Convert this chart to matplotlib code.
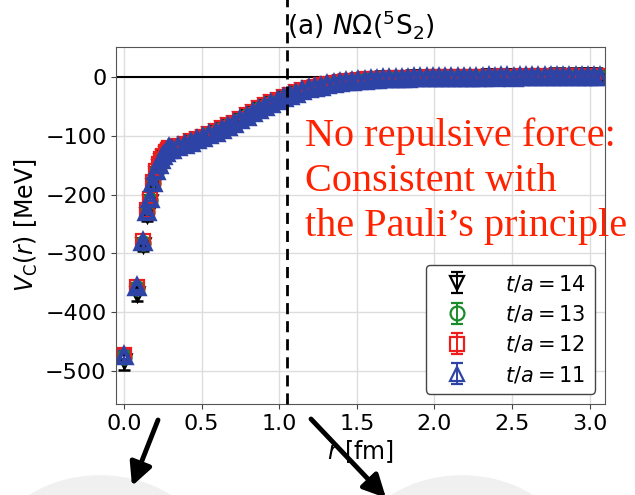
import matplotlib
matplotlib.use("Agg")
import matplotlib.pyplot as plt
from matplotlib.lines import Line2D
from matplotlib.patches import Ellipse

# r [fm]: short-range lattice points, then the dense band
r_fm = [0.0, 0.085, 0.120, 0.147, 0.169, 0.189, 0.207, 0.224, 0.239, 0.254, 0.268, 0.281, 0.293,
        0.31, 0.35, 0.39, 0.43, 0.47, 0.51, 0.55, 0.59, 0.63, 0.67,
        0.71, 0.75, 0.79, 0.83, 0.87, 0.91, 0.95, 0.99, 1.03, 1.07,
        1.11, 1.15, 1.19, 1.23, 1.27, 1.31, 1.35, 1.39, 1.43, 1.47,
        1.51, 1.55, 1.59, 1.63, 1.67, 1.71, 1.75, 1.79, 1.83, 1.87,
        1.91, 1.95, 1.99, 2.03, 2.07, 2.11, 2.15, 2.19, 2.23, 2.27,
        2.31, 2.35, 2.39, 2.43, 2.47, 2.51, 2.55, 2.59, 2.63, 2.67,
        2.71, 2.75, 2.79, 2.83, 2.87, 2.91, 2.95, 2.99, 3.03, 3.07]

# V_C(r) [MeV] for each t/a
v_t14 = [-482, -368, -286, -235, -212, -185, -165, -154, -144, -137, -131, -127, -124,
         -123, -118, -114, -110, -106, -102, -97, -93, -88, -83,
         -78, -72, -66, -60, -54, -49, -44, -39, -35, -31,
         -27, -23, -20, -17, -15, -13, -11, -9, -8, -7,
         -6, -5, -4, -4, -3, -3, -2, -2, -2, -1,
         -1, -1, -1, 0, -1, 0, 0, 0, 0, 0,
         0, 1, 0, 1, 1, 0, 1, 1, 1, 1,
         1, 1, 2, 1, 1, 2, 1, 2, 2, 1]
v_t13 = [-476, -359, -282, -229, -209, -181, -162, -151, -142, -136, -130, -126, -123,
         -124, -119, -115, -111, -107, -103, -98, -94, -89, -84,
         -79, -73, -67, -61, -55, -50, -45, -40, -36, -32,
         -28, -24, -21, -18, -16, -14, -12, -10, -9, -8,
         -7, -6, -5, -5, -4, -4, -3, -3, -3, -2,
         -2, -2, -2, -1, -2, -1, -1, -1, -1, -1,
         -1, 0, -1, 0, 0, -1, 0, 0, 0, 0,
         0, 0, 1, 0, 0, 1, 0, 1, 1, 0]
v_t12 = [-472, -356, -279, -227, -207, -179, -160, -149, -140, -134, -128, -124, -121,
         -123, -118, -114, -110, -106, -102, -97, -93, -88, -83,
         -78, -72, -66, -60, -54, -49, -44, -39, -35, -31,
         -27, -23, -20, -17, -15, -13, -11, -9, -8, -7,
         -6, -5, -5, -4, -4, -3, -3, -3, -2, -2,
         -2, -1, -1, -1, -1, -1, 0, -1, 0, 0,
         0, 0, 0, 1, 0, 0, 1, 0, 1, 1,
         0, 1, 1, 0, 1, 1, 0, 1, 1, 1]
v_t11 = [-474, -357, -281, -229, -208, -180, -161, -150, -141, -135, -129, -125, -122,
         -125, -120, -116, -112, -108, -104, -99, -95, -90, -85,
         -80, -74, -68, -62, -56, -51, -46, -41, -37, -33,
         -29, -25, -22, -19, -17, -15, -13, -11, -10, -9,
         -8, -7, -6, -6, -5, -5, -4, -4, -4, -3,
         -3, -3, -3, -2, -3, -2, -2, -2, -2, -2,
         -2, -1, -2, -1, -1, -2, -1, -1, -1, -1,
         -1, -1, 0, -1, -1, 0, -1, 0, 0, -1]

e_t14 = [16, 12, 9, 10, 8, 8, 6, 6, 5, 5, 5, 5, 5,
         7, 7, 7, 7, 7, 8, 8, 8, 8, 8,
         8, 8, 8, 8, 9, 9, 9, 9, 9, 9,
         9, 9, 10, 10, 10, 10, 10, 10, 10, 10,
         10, 10, 10, 10, 11, 11, 11, 11, 11, 11,
         11, 11, 11, 11, 11, 11, 11, 11, 11, 11,
         11, 11, 11, 11, 11, 11, 11, 11, 11, 11,
         11, 11, 11, 11, 11, 11, 11, 11, 11, 11]
e_t13 = [9, 6, 5, 5, 4, 4, 4, 4, 3, 3, 3, 3, 3,
         6, 6, 6, 6, 6, 6, 6, 6, 6, 6,
         7, 7, 7, 7, 7, 7, 7, 7, 7, 7,
         7, 7, 7, 7, 7, 8, 8, 8, 8, 8,
         8, 8, 8, 8, 8, 8, 8, 8, 8, 8,
         8, 8, 8, 8, 8, 8, 8, 8, 8, 8,
         8, 8, 8, 8, 8, 8, 8, 8, 8, 8,
         8, 8, 8, 8, 8, 8, 8, 8, 8, 8]
e_t12 = [8, 5, 4, 4, 4, 4, 3, 3, 3, 3, 3, 3, 3,
         6, 6, 6, 6, 6, 6, 6, 6, 6, 6,
         6, 6, 6, 6, 6, 6, 6, 6, 6, 6,
         7, 7, 7, 7, 7, 7, 7, 7, 7, 7,
         7, 7, 7, 7, 7, 7, 7, 7, 7, 7,
         8, 8, 8, 8, 8, 8, 8, 8, 8, 8,
         8, 8, 8, 8, 8, 8, 8, 8, 8, 8,
         8, 8, 8, 8, 8, 8, 8, 8, 8, 8]
e_t11 = [7, 5, 4, 4, 4, 4, 3, 3, 3, 3, 3, 3, 3,
         6, 6, 6, 6, 6, 6, 6, 6, 6, 6,
         6, 6, 6, 6, 6, 6, 6, 6, 6, 6,
         6, 6, 6, 6, 6, 6, 6, 6, 6, 6,
         6, 6, 6, 6, 6, 6, 6, 6, 6, 6,
         7, 7, 7, 7, 7, 7, 7, 7, 7, 7,
         7, 7, 7, 7, 7, 7, 7, 7, 7, 7,
         7, 7, 7, 7, 7, 7, 7, 7, 7, 7]

labels = [r'$t/a = 14$', r'$t/a = 13$', r'$t/a = 12$', r'$t/a = 11$']
values = [v_t14, v_t13, v_t12, v_t11]
errors = [e_t14, e_t13, e_t12, e_t11]
markers = ['v', 'o', 's', '^']
colors = ['black', '#1a8a2a', '#ee1c1c', '#2d44a6']
edge_widths = [1.8, 1.8, 1.6, 3.2]

x_ticks = [0.0, 0.5, 1.0, 1.5, 2.0, 2.5, 3.0]
y_ticks = [0, -100, -200, -300, -400, -500]
note_lines = ['No repulsive force:', 'Consistent with', 'the Pauli\u2019s principle']

fig = plt.figure(figsize=(6.35, 4.95), dpi=100)
ax = fig.add_axes([0.183, 0.184, 0.770, 0.721])

for v, e, m, c, mw, lab in zip(values, errors, markers, colors, edge_widths, labels):
    ax.errorbar(r_fm, v, yerr=e, fmt=m, mfc='none', mec=c, ecolor=c, ms=10, mew=mw,
                elinewidth=1.4, capsize=4.5, capthick=1.4, label=lab)

ax.axhline(0, color='black', lw=1.5, zorder=1)
ax.axvline(1.05, ymin=0, ymax=1.135, clip_on=False, color='black', lw=2,
           ls=(0, (4, 2.5)), zorder=5)

ax.set_xlim(-0.05, 3.1)
ax.set_ylim(-555, 50)
ax.set_xticks(x_ticks)
ax.set_yticks(y_ticks)
ax.tick_params(labelsize=16, color='#444444')
ax.grid(True, color='#dddddd', lw=1)
ax.set_axisbelow(True)
for s in ax.spines.values():
    s.set_color('#555555')

ax.set_xlabel(r'$r$ [fm]', fontsize=17, labelpad=3)
ax.set_ylabel(r'$V_\mathrm{C}(r)$ [MeV]', fontsize=17, labelpad=4)
ax.set_title(r'(a) $N\Omega(^5\mathrm{S}_2)$', fontsize=19, pad=9)

leg = ax.legend(loc='lower right', fontsize=15, framealpha=1, edgecolor='#444444',
                handletextpad=1.2, borderpad=0.4, labelspacing=0.45, handlelength=2.2)
for ln in leg.findobj(Line2D):
    ln.set_markeredgewidth(1.6)

# red comment text (figure pixels, baselines)
for line, yb in zip(note_lines, [146, 191, 236]):
    fig.text(305 / 635, 1 - yb / 495, line, color='#ff2200', fontsize=29,
             family='Liberation Serif', ha='left', va='baseline')

# arrows below the axis
arrow = dict(arrowstyle='-|>', lw=3.5, color='black', mutation_scale=34, shrinkA=0, shrinkB=0)
ax.annotate('', xy=(132, 495 - 486), xytext=(158, 495 - 420), xycoords='figure pixels',
            textcoords='figure pixels', arrowprops=arrow, annotation_clip=False)
ax.annotate('', xy=(386, 495 - 498), xytext=(311, 495 - 419), xycoords='figure pixels',
            textcoords='figure pixels', arrowprops=arrow, annotation_clip=False)

# faint grey shapes at the bottom of the slide
for cx in [100, 462]:
    fig.patches.append(Ellipse((cx / 635, -0.13), 220 / 635, 0.34, transform=fig.transFigure,
                               facecolor='#f0f0f0', edgecolor='none', zorder=-1))

fig.savefig('out.png', dpi=100)
